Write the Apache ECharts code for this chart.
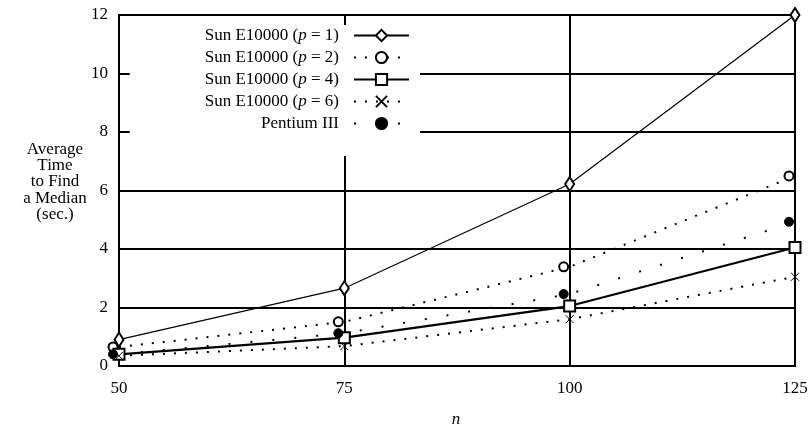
<!DOCTYPE html>
<html>
<head>
<meta charset="utf-8">
<script src="https://cdn.jsdelivr.net/npm/echarts@6/dist/echarts.min.js"></script>
<style>
  html, body { margin: 0; padding: 0; background: #fff; }
  #chart { width: 811px; height: 427px; }
</style>
</head>
<body>
<div id="chart"></div>
<script>
// problem sizes n
var nValues = [50, 75, 100, 125];
// average time (sec.) to find a median
var sunP1 = [0.9, 2.66, 6.22, 12.0];
var sunP2 = [0.65, 1.51, 3.39, 6.5];
var sunP4 = [0.4, 0.97, 2.05, 4.05];
var sunP6 = [0.35, 0.68, 1.6, 3.05];
var pentium = [0.4, 1.12, 2.46, 4.93];
var xTicks = [50, 75, 100, 125];
var yTicks = [0, 2, 4, 6, 8, 10, 12];

var serif = '"Liberation Serif", "DejaVu Serif", serif';
var crossPath = 'path://M0,0L10,10M10,0L0,10';

function pairs(ys) {
    return nValues.map(function (n, i) { return [n, ys[i]]; });
}

function makeSeries(name, ys, symbol, size, line, extra) {
    var s = {
        name: name,
        type: 'line',
        data: pairs(ys),
        symbol: symbol,
        symbolSize: size,
        showAllSymbol: true,
        clip: false,
        animation: false,
        lineStyle: line,
        itemStyle: { color: '#000', borderColor: '#000', borderWidth: 1 },
        emphasis: { disabled: true },
        z: 3
    };
    for (var k in extra) s[k] = extra[k];
    return s;
}

var dotted = { color: '#000', width: 2, type: [2, 9], cap: 'butt' };
var sparse = { color: '#000', width: 2, type: [2, 20], cap: 'butt' };

var chart = echarts.init(document.getElementById('chart'));
chart.setOption({
    backgroundColor: '#fff',
    animation: false,
    grid: {
        left: 119, right: 16, top: 15, bottom: 61,
        show: true, borderColor: '#000', borderWidth: 2, backgroundColor: 'transparent'
    },
    xAxis: {
        type: 'value',
        min: xTicks[0], max: xTicks[xTicks.length - 1], interval: 25,
        axisLine: { show: true, lineStyle: { color: '#000', width: 2 } },
        axisTick: { show: true, inside: true, length: 10, lineStyle: { color: '#000', width: 2 } },
        axisLabel: { color: '#000', fontFamily: serif, fontSize: 17, margin: 14 },
        splitLine: { show: true, lineStyle: { color: '#000', width: 2 } }
    },
    yAxis: {
        type: 'value',
        min: yTicks[0], max: yTicks[yTicks.length - 1], interval: 2,
        axisLine: { show: true, lineStyle: { color: '#000', width: 2 } },
        axisTick: { show: true, inside: true, length: 10, lineStyle: { color: '#000', width: 2 } },
        axisLabel: { color: '#000', fontFamily: serif, fontSize: 17, margin: 11 },
        splitLine: { show: true, lineStyle: { color: '#000', width: 2 } }
    },
    legend: {
        orient: 'vertical',
        right: 391,
        top: 25,
        align: 'right',
        itemWidth: 55,
        itemHeight: 14,
        itemGap: 5,
        padding: [2, 10, 24, 75],
        backgroundColor: '#fff',
        inactiveColor: '#000',
        selectedMode: false,
        textStyle: {
            color: '#000', fontFamily: serif, fontSize: 17, padding: [0, 10, 0, 0],
            rich: {
                i: { fontFamily: serif, fontSize: 17, fontStyle: 'italic', color: '#000' }
            }
        },
        formatter: function (name) {
            return name.replace(/\(p = /, '({i|p} = ');
        },
        data: [
            'Sun E10000 (p = 1)', 'Sun E10000 (p = 2)', 'Sun E10000 (p = 4)',
            'Sun E10000 (p = 6)', 'Pentium III'
        ],
        z: 10
    },
    graphic: [
        {
            type: 'text', x: 55, y: 141, z: 20,
            style: {
                text: 'Average\nTime\nto Find\na Median\n(sec.)',
                align: 'center', verticalAlign: 'top',
                font: '17px ' + serif, lineHeight: 16.3, fill: '#000'
            }
        },
        {
            type: 'text', x: 456, y: 420, z: 20,
            style: {
                text: 'n', align: 'center', verticalAlign: 'middle',
                font: 'italic 17px ' + serif, fill: '#000'
            }
        }
    ],
    series: [
        makeSeries('Sun E10000 (p = 1)', sunP1, 'emptyDiamond', [9, 14],
            { color: '#000', width: 1.2, type: 'solid' }, {}),
        makeSeries('Sun E10000 (p = 2)', sunP2, 'emptyCircle', 9, dotted,
            { symbolOffset: [-6, 0] }),
        makeSeries('Sun E10000 (p = 4)', sunP4, 'emptyRect', 11,
            { color: '#000', width: 2.2, type: 'solid' }, {}),
        makeSeries('Sun E10000 (p = 6)', sunP6, crossPath, 8, dotted, {}),
        makeSeries('Pentium III', pentium, 'circle', 9, sparse,
            { symbolOffset: [-6, 0] })
    ]
});
</script>
</body>
</html>
